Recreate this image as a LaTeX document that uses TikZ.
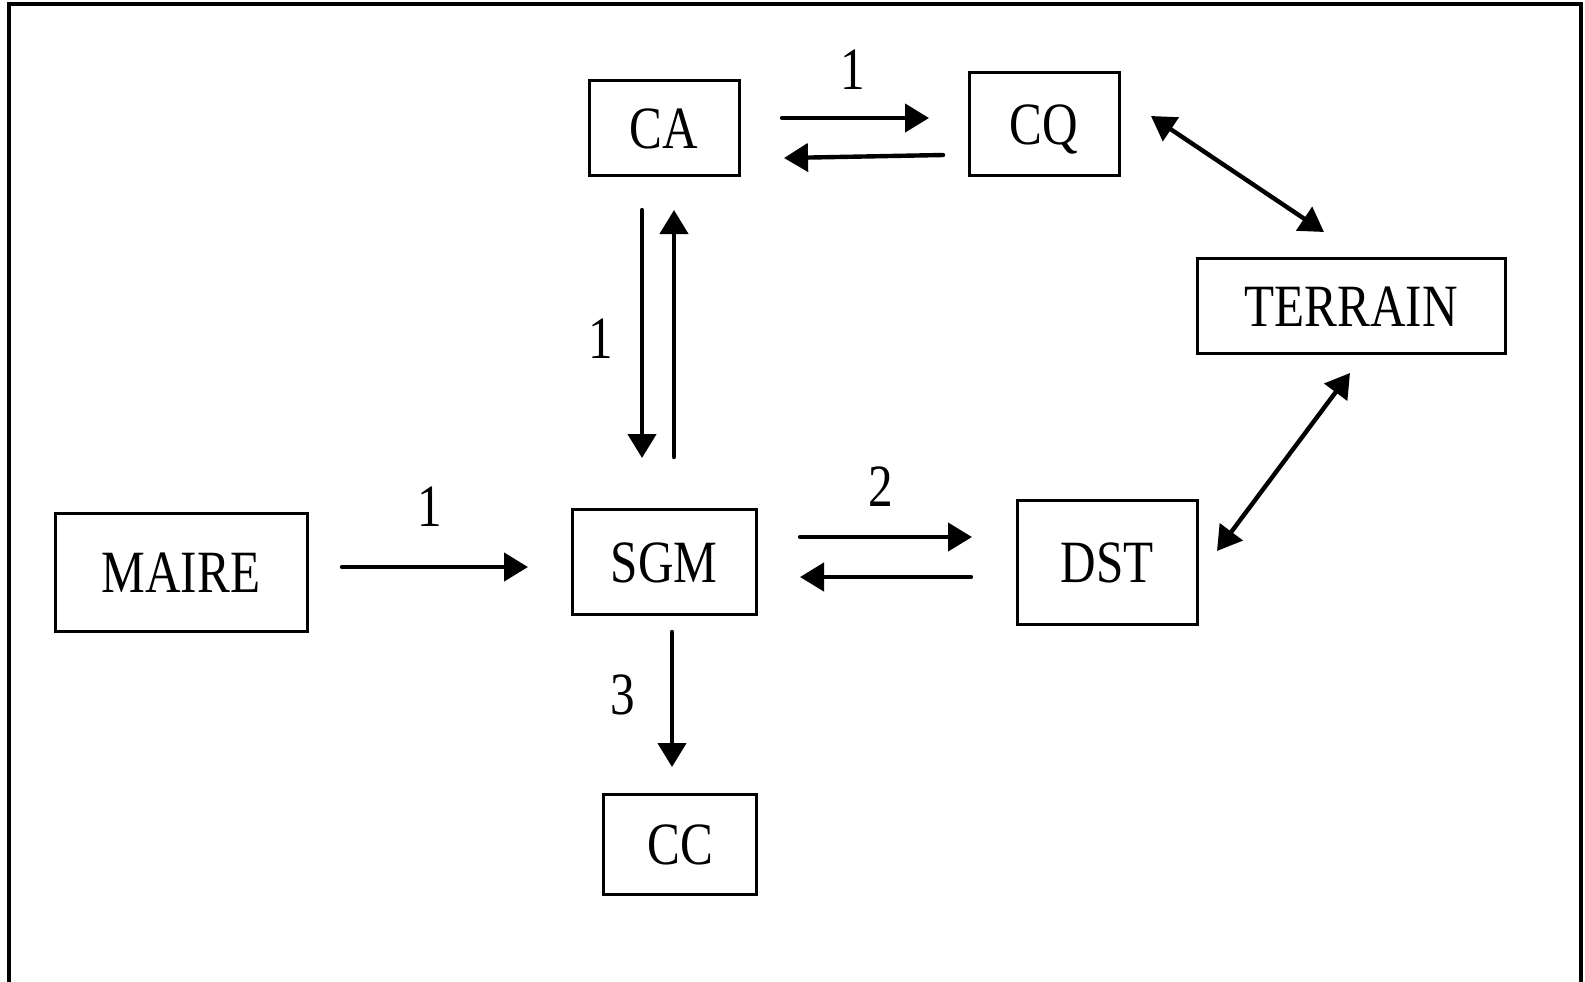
\documentclass[tikz,border=0pt]{standalone}
\usepackage{fontspec}
\setmainfont{Liberation Serif}[FakeStretch=0.82]
\usetikzlibrary{arrows.meta}
\begin{document}
\begin{tikzpicture}[x=0.5pt,y=-0.5pt,
  box/.style={draw,line width=1.5pt,inner sep=0pt,font=\fontsize{30}{30}\selectfont,text height=20pt,text depth=0pt},
  arr/.style={line width=2.2pt,line cap=round,-{Triangle[length=12pt,width=14pt]}},
  darr/.style={line width=2.2pt,{Triangle[length=12pt,width=14pt]}-{Triangle[length=12pt,width=14pt]}},
  lbl/.style={font=\fontsize{30}{30}\selectfont,inner sep=0pt,text height=20pt,text depth=0pt}]
\useasboundingbox (0,0) rectangle (1585,981);
\draw[line width=1.8pt] (9,990) -- (9,4) -- (1581,4) -- (1581,990);
% boxes
\node[box,minimum width=75pt,minimum height=47.5pt] (CA) at (664,128) {CA};
\node[box,minimum width=75pt,minimum height=51.5pt] (CQ) at (1044,124) {CQ};
\node[box,minimum width=154pt,minimum height=47.5pt] (TERRAIN) at (1351,306) {TERRAIN};
\node[box,minimum width=126pt,minimum height=59pt] (MAIRE) at (181,572) {MAIRE};
\node[box,minimum width=92pt,minimum height=52.5pt] (SGM) at (664,562) {SGM};
\node[box,minimum width=90pt,minimum height=62pt] (DST) at (1107,562) {DST};
\node[box,minimum width=76.5pt,minimum height=50pt] (CC) at (680,844) {CC};
% connector end points
\coordinate (a1) at (782,118); \coordinate (a2) at (929,118);
\coordinate (b1) at (943,155); \coordinate (b2) at (784,158);
\coordinate (c1) at (642,210); \coordinate (c2) at (642,458);
\coordinate (d1) at (674,457); \coordinate (d2) at (674,210);
\coordinate (e1) at (342,567); \coordinate (e2) at (528,567);
\coordinate (f1) at (800,537); \coordinate (f2) at (972,537);
\coordinate (g1) at (971,577); \coordinate (g2) at (800,577);
\coordinate (h1) at (672,632); \coordinate (h2) at (672,767);
\coordinate (i1) at (1151,116); \coordinate (i2) at (1324,232);
\coordinate (j1) at (1350,373); \coordinate (j2) at (1217,551);
% connectors
\draw[arr] (a1) -- (a2);
\draw[arr] (b1) -- (b2);
\draw[arr] (c1) -- (c2);
\draw[arr] (d1) -- (d2);
\draw[arr] (e1) -- (e2);
\draw[arr] (f1) -- (f2);
\draw[arr] (g1) -- (g2);
\draw[arr] (h1) -- (h2);
\draw[darr] (i1) -- (i2);
\draw[darr] (j1) -- (j2);
% labels
\node[lbl] (l1) at (853,69) {1};
\node[lbl] (l2) at (601,338) {1};
\node[lbl] (l3) at (430,506) {1};
\node[lbl] (l4) at (881,486) {2};
\node[lbl] (l5) at (623,694) {3};
\end{tikzpicture}
\end{document}
